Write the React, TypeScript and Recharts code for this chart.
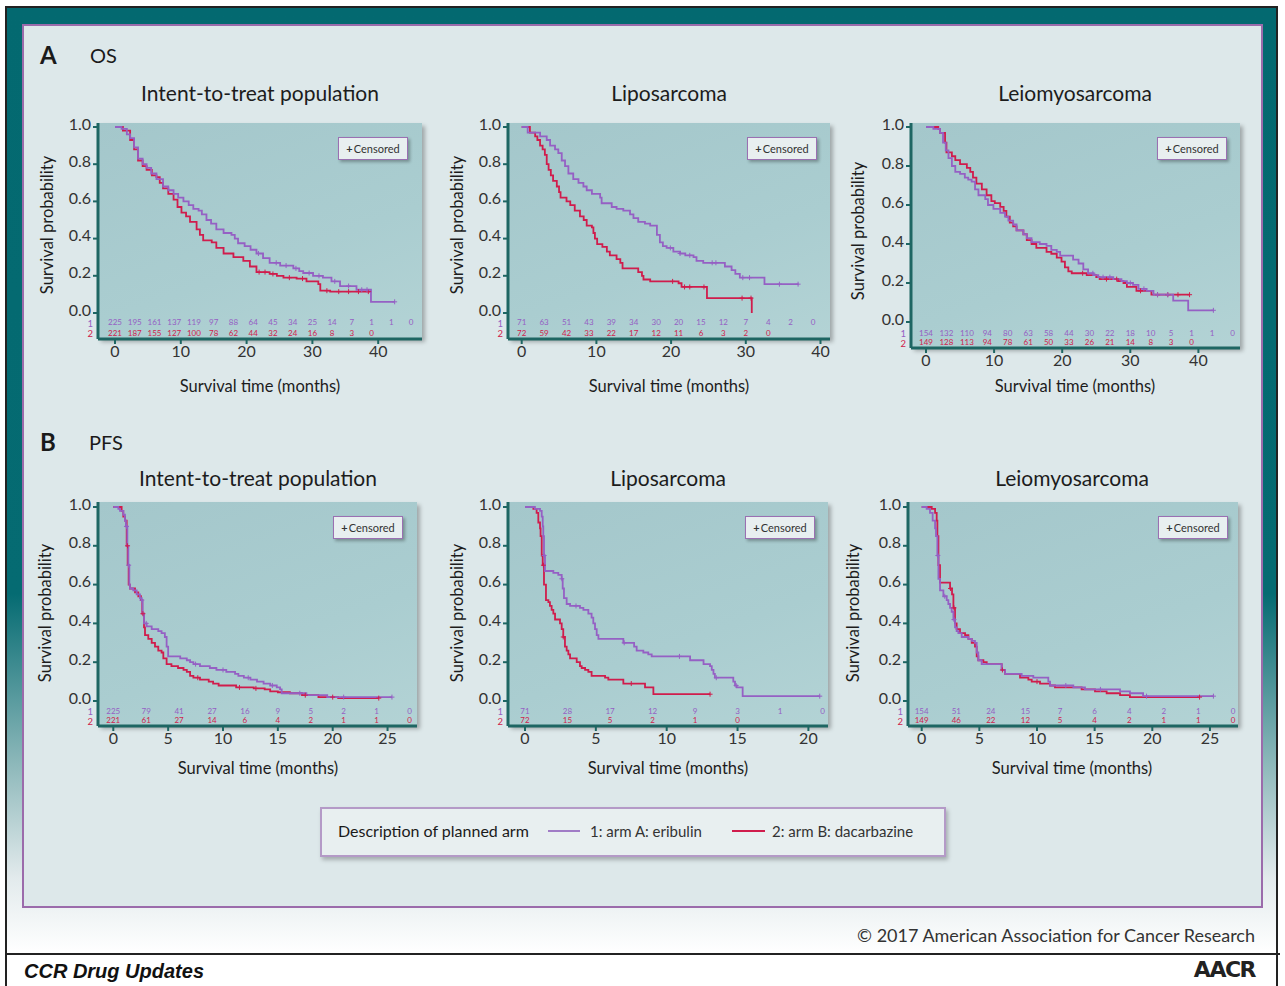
import React from 'react';
import { ComposedChart, Line, Scatter, XAxis, YAxis } from 'recharts';

const PURPLE = '#9560c4';
const RED = '#d01c4c';
const TEAL = '#1e6663';

// ---- Overall survival: step points [months, survival probability] ----
const osIttEribulin = [[0,1],[1.0,0.99],[1.8,0.96],[2.3,0.94],[2.9,0.89],[3.5,0.83],[4.2,0.80],[4.8,0.78],[5.5,0.75],[6.3,0.72],[7.3,0.68],[8.1,0.66],[8.9,0.64],[9.6,0.62],[10.4,0.60],[11.2,0.58],[11.9,0.56],[12.7,0.55],[13.2,0.53],[13.9,0.50],[14.6,0.48],[15.4,0.45],[16.5,0.43],[17.7,0.42],[18.2,0.40],[18.7,0.375],[19.7,0.36],[20.6,0.34],[21.5,0.32],[22.5,0.295],[23.5,0.27],[25.1,0.255],[27.1,0.24],[28.0,0.225],[28.6,0.215],[30.1,0.20],[31.6,0.19],[32.9,0.17],[34.2,0.145],[36.7,0.125],[38.9,0.06],[42.5,0.06]];
const osIttDacarbazine = [[0,1],[1.2,0.98],[2.3,0.93],[2.9,0.88],[3.5,0.82],[4.2,0.79],[4.8,0.77],[5.6,0.74],[6.3,0.73],[6.8,0.70],[7.3,0.67],[8.1,0.64],[8.9,0.61],[9.5,0.57],[10.1,0.54],[10.8,0.52],[11.4,0.49],[12.4,0.45],[12.9,0.42],[13.4,0.39],[14.7,0.38],[15.4,0.35],[16.5,0.32],[18.0,0.30],[19.5,0.28],[20.5,0.25],[21.5,0.22],[23.5,0.21],[24.6,0.20],[25.6,0.19],[27.6,0.185],[29.1,0.17],[30.9,0.155],[31.2,0.12],[32.7,0.115],[39.0,0.115]];
const osLipoEribulin = [[0,1],[0.8,0.97],[2.46,0.95],[3.35,0.93],[3.8,0.90],[4.46,0.88],[4.9,0.86],[5.36,0.82],[5.8,0.79],[6.25,0.75],[6.9,0.72],[7.6,0.70],[8.26,0.68],[8.7,0.66],[9.4,0.64],[10.5,0.62],[10.7,0.59],[12.05,0.57],[12.7,0.56],[13.6,0.55],[14.5,0.53],[14.96,0.51],[15.6,0.49],[16.5,0.48],[17.2,0.47],[18.1,0.42],[18.5,0.38],[18.9,0.36],[19.4,0.35],[20.3,0.33],[21.2,0.32],[21.9,0.31],[23.0,0.30],[23.4,0.28],[24.3,0.27],[27.2,0.25],[28.1,0.23],[28.6,0.21],[29.2,0.19],[32.5,0.155],[37.05,0.155]];
const osLipoDacarbazine = [[0,1],[1.1,0.97],[1.8,0.95],[2.1,0.93],[2.46,0.90],[2.8,0.88],[3.1,0.85],[3.35,0.80],[3.6,0.77],[3.9,0.74],[4.2,0.71],[4.7,0.68],[5.0,0.65],[5.2,0.62],[6.0,0.60],[6.5,0.58],[7.1,0.55],[7.8,0.52],[8.3,0.50],[8.7,0.47],[9.4,0.46],[9.6,0.43],[9.8,0.40],[10.1,0.37],[10.8,0.355],[11.4,0.33],[11.8,0.31],[12.7,0.29],[13.2,0.27],[13.5,0.24],[15.6,0.22],[16.1,0.20],[16.3,0.18],[17.2,0.17],[21.0,0.16],[21.4,0.14],[24.8,0.08],[30.8,0]];
const osLeioEribulin = [[0,1],[1.08,0.99],[2.05,0.97],[2.5,0.92],[2.9,0.88],[3.3,0.84],[3.8,0.80],[4.3,0.77],[5.0,0.76],[5.7,0.74],[6.2,0.73],[6.7,0.72],[7.2,0.68],[7.7,0.65],[8.7,0.63],[9.1,0.60],[9.9,0.58],[10.9,0.56],[11.6,0.54],[12.1,0.52],[12.8,0.50],[13.3,0.47],[14.3,0.45],[14.8,0.43],[15.5,0.41],[16.7,0.40],[17.7,0.39],[18.4,0.37],[19.2,0.36],[19.7,0.34],[21.6,0.32],[22.4,0.30],[23.1,0.27],[23.8,0.25],[24.6,0.24],[25.3,0.23],[27.5,0.22],[28.7,0.21],[29.5,0.20],[30.4,0.19],[31.2,0.17],[32.4,0.16],[33.4,0.14],[36.3,0.11],[38.5,0.06],[42.2,0.06]];
const osLeioDacarbazine = [[0,1],[1.8,0.99],[2.05,0.97],[2.8,0.92],[3.0,0.87],[3.8,0.85],[4.3,0.83],[5.0,0.81],[6.0,0.79],[6.5,0.77],[6.9,0.74],[7.4,0.71],[8.2,0.68],[8.9,0.65],[9.6,0.62],[10.1,0.61],[10.9,0.59],[11.4,0.57],[11.8,0.54],[12.3,0.51],[12.8,0.49],[13.3,0.47],[14.3,0.45],[14.8,0.42],[15.5,0.40],[16.2,0.38],[17.7,0.36],[18.4,0.35],[19.2,0.33],[19.9,0.31],[20.4,0.28],[20.9,0.26],[21.4,0.25],[23.6,0.24],[25.0,0.23],[25.5,0.22],[28.2,0.21],[29.0,0.20],[29.5,0.18],[30.9,0.16],[33.1,0.14],[38.7,0.14]];

// ---- Progression-free survival ----
const pfsIttEribulin = [[0,1],[0.46,0.99],[0.61,0.98],[0.91,0.96],[1.06,0.93],[1.15,0.90],[1.28,0.80],[1.37,0.70],[1.46,0.60],[1.52,0.58],[1.82,0.57],[2.13,0.55],[2.43,0.53],[2.58,0.52],[2.67,0.45],[2.8,0.40],[3.04,0.385],[3.5,0.37],[4.1,0.36],[4.4,0.35],[4.7,0.33],[4.86,0.28],[5.0,0.23],[6.1,0.22],[6.7,0.21],[7.0,0.20],[7.3,0.19],[7.9,0.18],[8.8,0.17],[9.4,0.16],[10.3,0.15],[11.1,0.14],[11.4,0.13],[11.9,0.12],[12.5,0.11],[13.1,0.10],[13.7,0.09],[14.3,0.08],[14.9,0.07],[15.2,0.06],[15.35,0.04],[17.6,0.03],[19.5,0.02],[25.4,0.02]];
const pfsIttDacarbazine = [[0,1],[0.76,0.98],[0.91,0.95],[1.06,0.93],[1.22,0.80],[1.31,0.70],[1.4,0.60],[1.52,0.58],[1.98,0.56],[2.28,0.54],[2.52,0.52],[2.64,0.45],[2.8,0.38],[2.89,0.34],[3.19,0.32],[3.5,0.30],[3.8,0.28],[4.1,0.26],[4.4,0.25],[4.56,0.22],[4.86,0.19],[5.3,0.18],[5.9,0.17],[6.4,0.16],[6.7,0.15],[7.0,0.13],[7.3,0.12],[7.9,0.11],[8.7,0.10],[9.1,0.09],[9.6,0.08],[11.2,0.07],[12.8,0.065],[13.8,0.06],[14.3,0.05],[15.0,0.045],[16.1,0.04],[17.2,0.03],[18.7,0.02],[20.5,0.015],[24.2,0.015]];
const pfsLipoEribulin = [[0,1],[0.7,0.99],[1.06,0.98],[1.18,0.95],[1.25,0.90],[1.29,0.85],[1.34,0.75],[1.41,0.67],[2.0,0.66],[2.35,0.65],[2.59,0.63],[2.66,0.58],[2.75,0.53],[2.94,0.50],[3.18,0.49],[3.88,0.48],[4.12,0.47],[4.47,0.45],[4.7,0.43],[4.82,0.40],[4.94,0.37],[5.06,0.34],[5.18,0.32],[6.94,0.30],[7.7,0.28],[7.88,0.26],[8.35,0.25],[8.7,0.24],[8.94,0.23],[11.65,0.21],[12.6,0.19],[13.06,0.18],[13.18,0.16],[13.3,0.14],[13.4,0.12],[14.7,0.10],[14.82,0.08],[14.94,0.07],[15.36,0.025],[20.8,0.025]];
const pfsLipoDacarbazine = [[0,1],[0.59,0.99],[0.82,0.97],[0.94,0.92],[1.06,0.89],[1.1,0.85],[1.18,0.75],[1.25,0.70],[1.34,0.60],[1.48,0.52],[1.65,0.51],[1.76,0.49],[1.88,0.47],[2.0,0.45],[2.12,0.42],[2.47,0.40],[2.59,0.37],[2.7,0.33],[2.82,0.28],[2.94,0.26],[3.06,0.24],[3.18,0.22],[3.65,0.20],[3.88,0.18],[4.0,0.17],[4.24,0.16],[4.47,0.15],[4.7,0.13],[5.65,0.12],[5.88,0.11],[6.94,0.09],[8.47,0.07],[9.06,0.035],[13.06,0.035]];
const pfsLeioEribulin = [[0,1],[0.43,0.99],[0.72,0.97],[0.95,0.93],[1.16,0.89],[1.24,0.85],[1.36,0.75],[1.45,0.63],[1.59,0.57],[1.88,0.54],[2.17,0.52],[2.31,0.50],[2.46,0.48],[2.6,0.46],[2.75,0.42],[2.89,0.38],[3.03,0.36],[3.18,0.35],[3.47,0.33],[4.05,0.32],[4.34,0.31],[4.62,0.30],[4.77,0.25],[4.91,0.21],[5.2,0.19],[6.94,0.16],[7.23,0.14],[8.67,0.13],[9.68,0.12],[10.98,0.10],[11.13,0.08],[13.15,0.07],[14.16,0.06],[17.2,0.05],[18.06,0.04],[19.2,0.025],[25.3,0.025]];
const pfsLeioDacarbazine = [[0,1],[0.87,0.99],[1.16,0.97],[1.3,0.93],[1.36,0.85],[1.45,0.70],[1.59,0.61],[2.46,0.58],[2.63,0.55],[2.75,0.48],[2.89,0.40],[3.03,0.37],[3.32,0.35],[3.76,0.34],[4.05,0.32],[4.34,0.30],[4.62,0.28],[4.77,0.23],[4.91,0.21],[5.35,0.20],[5.64,0.19],[6.94,0.16],[7.23,0.14],[8.53,0.12],[9.25,0.11],[9.54,0.10],[10.26,0.09],[11.13,0.08],[11.56,0.07],[13.87,0.06],[15.03,0.05],[16.04,0.04],[17.2,0.03],[18.06,0.02],[24.1,0.02]];

// ---- Censoring times (months) ----
const osIttCensorA = [21.8, 24.5, 26.0, 27.5, 29.5, 31.0, 33.4, 35.5, 37.5, 38.3, 42.5];
const osIttCensorB = [21.9, 22.8, 24.0, 26.5, 28.5, 32.2, 34.0, 35.5, 37.0, 38.5];
const osLipoCensorA = [19.9, 21.2, 22.5, 25.5, 26.0, 29.6, 30.5, 34.5, 37.0];
const osLipoCensorB = [20.2, 21.8, 22.5, 24.4, 29.5, 30.7];
const osLeioCensorA = [24.5, 26.0, 27.0, 30.0, 32.0, 34.0, 35.5, 42.2];
const osLeioCensorB = [23.0, 26.5, 28.0, 31.5, 34.0, 35.5, 37.0, 38.7];
const pfsIttCensorA = [1.2, 1.4, 2.6, 3.0, 7.5, 10.0, 12.3, 14.5, 17.0, 21.0, 25.4];
const pfsIttCensorB = [1.3, 2.7, 7.7, 11.5, 13.0, 17.5, 20.0, 24.2];
const pfsLipoCensorA = [1.35, 2.6, 3.6, 7.0, 10.9, 13.5, 14.9, 20.8];
const pfsLipoCensorB = [1.3, 2.7, 7.5, 13.06];
const pfsLeioCensorA = [1.4, 2.0, 2.8, 12.5, 15.5, 19.5, 25.3];
const pfsLeioCensorB = [2.5, 2.8, 7.0, 10.0, 24.1];

// ---- Numbers at risk ----
const osRiskTimes = [0, 3, 6, 9, 12, 15, 18, 21, 24, 27, 30, 33, 36, 39, 42, 45];
const pfsRiskTimes = [0, 3, 6, 9, 12, 15, 18, 21, 24, 27];
const osIttRiskA = [225, 195, 161, 137, 119, 97, 88, 64, 45, 34, 25, 14, 7, 1, 1, 0];
const osIttRiskB = [221, 187, 155, 127, 100, 78, 62, 44, 32, 24, 16, 8, 3, 0];
const osLipoRiskA = [71, 63, 51, 43, 39, 34, 30, 20, 15, 12, 7, 4, 2, 0];
const osLipoRiskB = [72, 59, 42, 33, 22, 17, 12, 11, 6, 3, 2, 0];
const osLeioRiskA = [154, 132, 110, 94, 80, 63, 58, 44, 30, 22, 18, 10, 5, 1, 1, 0];
const osLeioRiskB = [149, 128, 113, 94, 78, 61, 50, 33, 26, 21, 14, 8, 3, 0];
const pfsIttRiskA = [225, 79, 41, 27, 16, 9, 5, 2, 1, 0];
const pfsIttRiskB = [221, 61, 27, 14, 6, 4, 2, 1, 1, 0];
const pfsLipoRiskA = [71, 28, 17, 12, 9, 3, 1, 0];
const pfsLipoRiskB = [72, 15, 5, 2, 1, 0];
const pfsLeioRiskA = [154, 51, 24, 15, 7, 6, 4, 2, 1, 0];
const pfsLeioRiskB = [149, 46, 22, 12, 5, 4, 2, 1, 1, 0];

const osTicks = [0, 10, 20, 30, 40];
const pfsTicks25 = [0, 5, 10, 15, 20, 25];
const pfsTicks20 = [0, 5, 10, 15, 20];
const yTicks = [0, 0.2, 0.4, 0.6, 0.8, 1.0];

type Pt = { t: number; s: number; c?: boolean };

function kmSeries(steps: number[][], censor: number[]): Pt[] {
  const pts: Pt[] = steps.map(([t, s]) => ({ t, s }));
  censor.forEach((ct) => {
    let s = 1;
    steps.forEach(([t, v]) => {
      if (t <= ct) s = v;
    });
    pts.push({ t: ct, s, c: true });
  });
  return pts.sort((a, b) => a.t - b.t);
}

type PanelSpec = {
  title: string;
  cx: number; titleY: number; xLabelY: number; yLabelX: number; yLabelY: number;
  axisX: number; plotRight: number; plotTop: number; axisY: number;
  t0: number; ppm: number; y1: number; y0: number; row1: number; row2: number;
  xTicks: number[]; riskTimes: number[]; riskA: number[]; riskB: number[];
  a: Pt[]; b: Pt[]; legX: number; legY: number;
};

const panels: PanelSpec[] = [
  { title: 'Intent-to-treat population', cx: 260, titleY: 92, xLabelY: 386, yLabelX: 47, yLabelY: 225,
    axisX: 98, plotRight: 422, plotTop: 123, axisY: 339, t0: 115, ppm: 6.58, y1: 127, y0: 313, row1: 322.3, row2: 332.7,
    xTicks: osTicks, riskTimes: osRiskTimes, riskA: osIttRiskA, riskB: osIttRiskB,
    a: kmSeries(osIttEribulin, osIttCensorA), b: kmSeries(osIttDacarbazine, osIttCensorB), legX: 338, legY: 137 },
  { title: 'Liposarcoma', cx: 669, titleY: 92, xLabelY: 386, yLabelX: 457, yLabelY: 225,
    axisX: 508, plotRight: 830, plotTop: 123, axisY: 339, t0: 521.7, ppm: 7.47, y1: 127, y0: 313, row1: 322.3, row2: 332.7,
    xTicks: osTicks, riskTimes: osRiskTimes, riskA: osLipoRiskA, riskB: osLipoRiskB,
    a: kmSeries(osLipoEribulin, osLipoCensorA), b: kmSeries(osLipoDacarbazine, osLipoCensorB), legX: 747, legY: 137 },
  { title: 'Leiomyosarcoma', cx: 1075, titleY: 92, xLabelY: 386, yLabelX: 858, yLabelY: 231,
    axisX: 911, plotRight: 1240, plotTop: 123, axisY: 348, t0: 926, ppm: 6.81, y1: 127, y0: 322, row1: 332.7, row2: 342.3,
    xTicks: osTicks, riskTimes: osRiskTimes, riskA: osLeioRiskA, riskB: osLeioRiskB,
    a: kmSeries(osLeioEribulin, osLeioCensorA), b: kmSeries(osLeioDacarbazine, osLeioCensorB), legX: 1157, legY: 137 },
  { title: 'Intent-to-treat population', cx: 258, titleY: 477, xLabelY: 768, yLabelX: 45, yLabelY: 613,
    axisX: 98, plotRight: 417, plotTop: 502, axisY: 726, t0: 113.3, ppm: 10.97, y1: 507, y0: 701, row1: 710.7, row2: 720.3,
    xTicks: pfsTicks25, riskTimes: pfsRiskTimes, riskA: pfsIttRiskA, riskB: pfsIttRiskB,
    a: kmSeries(pfsIttEribulin, pfsIttCensorA), b: kmSeries(pfsIttDacarbazine, pfsIttCensorB), legX: 333, legY: 516 },
  { title: 'Liposarcoma', cx: 668, titleY: 477, xLabelY: 768, yLabelX: 457, yLabelY: 613,
    axisX: 508, plotRight: 828, plotTop: 502, axisY: 726, t0: 525, ppm: 14.17, y1: 507, y0: 701, row1: 710.7, row2: 720.3,
    xTicks: pfsTicks20, riskTimes: pfsRiskTimes, riskA: pfsLipoRiskA, riskB: pfsLipoRiskB,
    a: kmSeries(pfsLipoEribulin, pfsLipoCensorA), b: kmSeries(pfsLipoDacarbazine, pfsLipoCensorB), legX: 745, legY: 516 },
  { title: 'Leiomyosarcoma', cx: 1072, titleY: 477, xLabelY: 768, yLabelX: 853, yLabelY: 613,
    axisX: 908, plotRight: 1238, plotTop: 502, axisY: 726, t0: 921.7, ppm: 11.53, y1: 507, y0: 701, row1: 710.7, row2: 720.3,
    xTicks: pfsTicks25, riskTimes: pfsRiskTimes, riskA: pfsLeioRiskA, riskB: pfsLeioRiskB,
    a: kmSeries(pfsLeioEribulin, pfsLeioCensorA), b: kmSeries(pfsLeioDacarbazine, pfsLeioCensorB), legX: 1158, legY: 516 },
];

const Txt = ({ x, y, children, size = 15, weight = 400, anchor = 'middle', color = '#2a2a2a', family = 'Lato', italic = false, rotate = false, spacing = 0 }: any) => {
  const tx = anchor === 'middle' ? '-50%' : anchor === 'end' ? '-100%' : '0';
  return (
    <div
      style={{
        position: 'absolute', left: x, top: y, whiteSpace: 'nowrap', lineHeight: 1,
        transform: `translate(${tx}, -50%)${rotate ? ' rotate(-90deg)' : ''}`,
        fontSize: size, fontWeight: weight, fontFamily: family, color,
        fontStyle: italic ? 'italic' : 'normal', letterSpacing: spacing,
      }}
    >
      {children}
    </div>
  );
};

const censorDot = (color: string) => (props: any) => {
  const { cx, cy, payload, index } = props;
  if (!payload || !payload.c || cx == null) return <g key={`d${index}`} />;
  return <path key={`d${index}`} d={`M${cx - 2.5},${cy}h5M${cx},${cy - 2.5}v5`} stroke={color} strokeWidth={1} />;
};

function KmPanel({ p }: { p: PanelSpec }) {
  const L = p.axisX - 50;
  const T = p.plotTop - 15;
  const W = p.plotRight - L + 5;
  const H = p.axisY - T + 35;
  const yr = p.y0 - p.y1;
  const xDom = [-(p.t0 - p.axisX) / p.ppm, (p.plotRight - p.t0) / p.ppm];
  const yDom = [-(p.axisY - p.y0) / yr, (p.y0 - p.plotTop) / yr];
  const r1 = -(p.row1 - p.y0) / yr;
  const r2 = -(p.row2 - p.y0) / yr;
  const riskA = p.riskA.map((n, i) => ({ t: p.riskTimes[i], s: r1, n }));
  const riskB = p.riskB.map((n, i) => ({ t: p.riskTimes[i], s: r2, n }));

  const yTick = (props: any) => {
    const { x, y, payload } = props;
    const v = payload.value;
    if (v < -0.001) {
      const first = Math.abs(v - r1) < 1e-6;
      return (
        <text x={x + 2} y={y + 1} textAnchor="end" dominantBaseline="central" fontFamily="Lato" fontSize={9.5} fill={first ? PURPLE : RED}>
          {first ? '1' : '2'}
        </text>
      );
    }
    return (
      <g>
        <line x1={x + 2} x2={x + 7} y1={y} y2={y} stroke={TEAL} strokeWidth={2} />
        <text x={x} y={y - 4} textAnchor="end" dominantBaseline="central" fontFamily="Lato" fontSize={16} fill="#333">
          {v.toFixed(1)}
        </text>
      </g>
    );
  };

  const riskShape = (color: string) => (props: any) => (
    <text x={props.cx} y={props.cy} textAnchor="middle" dominantBaseline="central" fontFamily="Lato" fontSize={8} fill={color}>
      {props.payload.n}
    </text>
  );

  return (
    <>
      <div
        style={{
          position: 'absolute', left: p.axisX, top: p.plotTop,
          width: p.plotRight - p.axisX, height: p.axisY - p.plotTop,
          background: 'linear-gradient(160deg, #a4c7cb 0%, #aacdd0 60%, #b3d3d5 100%)',
          boxShadow: '3px 3px 4px rgba(0,0,0,0.28)',
        }}
      />
      <div style={{ position: 'absolute', left: L, top: T }}>
        <ComposedChart width={W} height={H} margin={{ top: 15, right: 5, left: 10, bottom: 5 }}>
          <XAxis
            type="number" dataKey="t" domain={xDom} allowDataOverflow ticks={p.xTicks} interval={0}
            height={30} axisLine={{ stroke: TEAL, strokeWidth: 3 }} tickLine={{ stroke: TEAL, strokeWidth: 2 }}
            tickSize={5} tickMargin={2} tick={{ fontFamily: 'Lato', fontSize: 16, fill: '#333' }}
          />
          <YAxis
            type="number" domain={yDom} allowDataOverflow ticks={[r2, r1, ...yTicks]} interval={0}
            width={40} axisLine={{ stroke: TEAL, strokeWidth: 3 }} tickLine={false}
            tickSize={5} tickMargin={2} tick={yTick}
          />
          <Scatter data={riskA} dataKey="s" shape={riskShape(PURPLE)} isAnimationActive={false} />
          <Scatter data={riskB} dataKey="s" shape={riskShape(RED)} isAnimationActive={false} />
          <Line data={p.b} dataKey="s" type="stepAfter" stroke={RED} strokeWidth={1.8} dot={censorDot(RED)} activeDot={false} isAnimationActive={false} />
          <Line data={p.a} dataKey="s" type="stepAfter" stroke={PURPLE} strokeWidth={1.8} dot={censorDot(PURPLE)} activeDot={false} isAnimationActive={false} />
        </ComposedChart>
      </div>
      <div
        style={{
          position: 'absolute', left: p.legX, top: p.legY, width: 68, height: 21,
          border: '1.5px solid #9a70b2', background: '#e8eff0', boxShadow: '2px 2px 3px rgba(0,0,0,0.3)',
          fontFamily: 'Lato', fontSize: 11, color: '#333', display: 'flex', alignItems: 'center', justifyContent: 'center',
        }}
      >
        <span style={{ fontWeight: 700, marginRight: 1 }}>+</span>Censored
      </div>
      <Txt x={p.cx} y={p.titleY} size={21} color="#1c1c1c">{p.title}</Txt>
      <Txt x={p.cx} y={p.xLabelY} size={16.5} color="#1c1c1c">Survival time (months)</Txt>
      <Txt x={p.yLabelX} y={p.yLabelY} size={16.5} color="#1c1c1c" rotate>Survival probability</Txt>
    </>
  );
}

export default function App() {
  return (
    <div style={{ position: 'absolute', left: 0, top: 0, width: 1285, height: 986, background: '#fff', overflow: 'hidden' }}>
      <div
        style={{
          position: 'absolute', left: 5, top: 6, width: 1273, height: 947,
          borderTop: '2px solid #222', borderLeft: '2px solid #222', borderRight: '2px solid #222', boxSizing: 'border-box',
          background: 'linear-gradient(to bottom, #036970 0%, #056b72 62%, #8db8ba 80%, #e2eaec 92%, #ffffff 100%)',
        }}
      />
      <div style={{ position: 'absolute', left: 5, top: 953, width: 1275, height: 2, background: '#222' }} />
      <div style={{ position: 'absolute', left: 5, top: 953, width: 2, height: 33, background: '#222' }} />
      <div style={{ position: 'absolute', left: 1276, top: 953, width: 2, height: 33, background: '#222' }} />
      <div
        style={{
          position: 'absolute', left: 22, top: 24, width: 1241, height: 884,
          border: '2px solid #9b6bab', boxSizing: 'border-box', background: '#dde8ea',
        }}
      />

      <Txt x={40} y={55} size={24} weight={700} anchor="start" color="#1a1a1a">A</Txt>
      <Txt x={90} y={55} size={20} anchor="start" color="#1a1a1a">OS</Txt>
      <Txt x={40} y={442} size={24} weight={700} anchor="start" color="#1a1a1a">B</Txt>
      <Txt x={89} y={442} size={20} anchor="start" color="#1a1a1a">PFS</Txt>

      {panels.map((p, i) => (
        <KmPanel key={i} p={p} />
      ))}

      <div
        style={{
          position: 'absolute', left: 320, top: 807, width: 626, height: 50,
          border: '2px solid #b49ac7', boxSizing: 'border-box', background: '#e8eff0',
          boxShadow: '2px 3px 4px rgba(0,0,0,0.25)',
        }}
      />
      <Txt x={338} y={831} size={16} anchor="start" color="#1a1a1a">Description of planned arm</Txt>
      <div style={{ position: 'absolute', left: 548, top: 830, width: 32, height: 2, background: '#a07cc6' }} />
      <Txt x={590} y={831} size={15} anchor="start" color="#333">1: arm A: eribulin</Txt>
      <div style={{ position: 'absolute', left: 732, top: 830, width: 33, height: 2, background: RED }} />
      <Txt x={772} y={831} size={15} anchor="start" color="#333">2: arm B: dacarbazine</Txt>

      <Txt x={1255} y={935} size={18} anchor="end" color="#333">© 2017 American Association for Cancer Research</Txt>
      <Txt x={24} y={971} size={20} weight={700} anchor="start" italic family="'Liberation Sans', Arial, sans-serif" color="#111">CCR Drug Updates</Txt>
      <Txt x={1255} y={970} size={22} weight={600} anchor="end" family="'DejaVu Sans', sans-serif" color="#222" spacing={-1.5}>
        AACR
      </Txt>
    </div>
  );
}
